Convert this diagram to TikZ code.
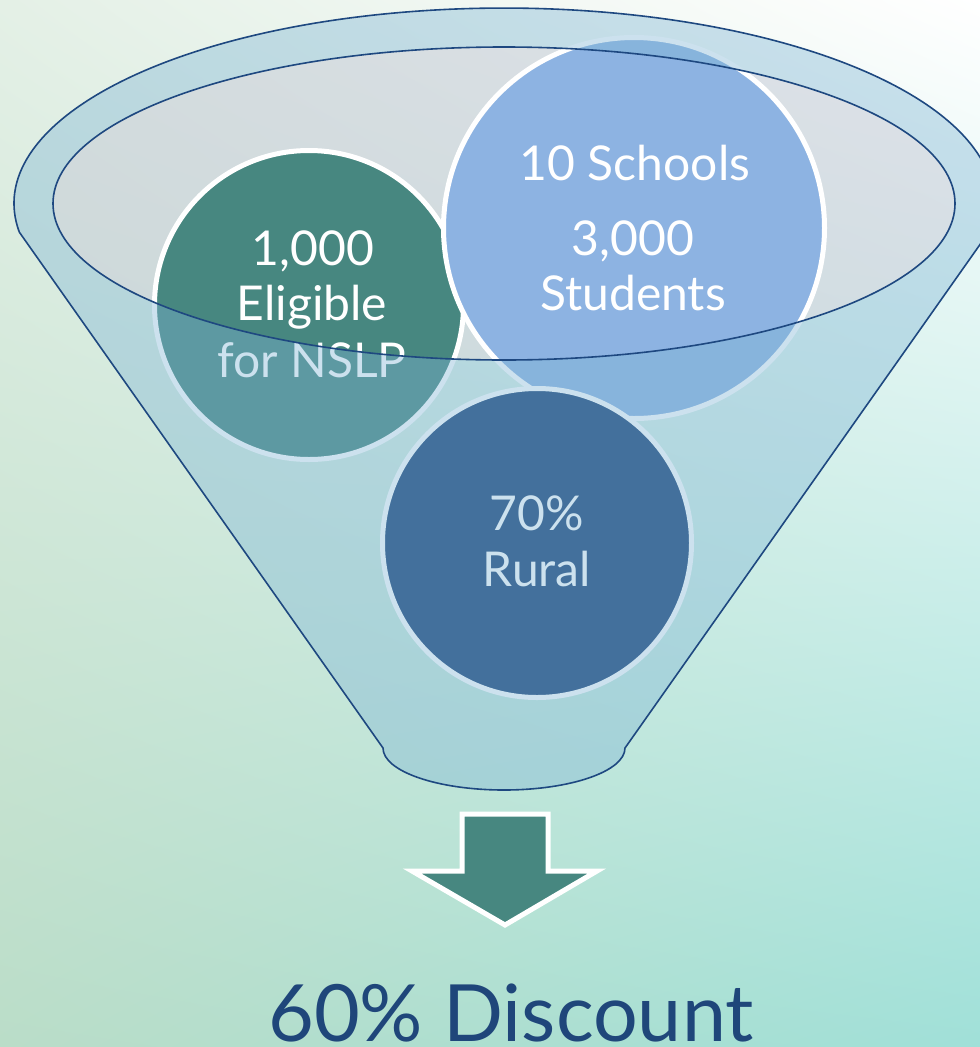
\documentclass[tikz,border=0pt]{standalone}
\usepackage{fontspec}
\setmainfont{Lato}
\usetikzlibrary{shadings}
\definecolor{bgUL}{RGB}{228,240,230}
\definecolor{bgUR}{RGB}{255,255,255}
\definecolor{bgLL}{RGB}{186,221,200}
\definecolor{bgLR}{RGB}{160,224,216}
\definecolor{funnelfill}{RGB}{128,182,213}
\definecolor{mouthfill}{RGB}{196,200,214}
\definecolor{edge}{RGB}{30,72,128}
\definecolor{teal}{RGB}{71,135,128}
\definecolor{sky}{RGB}{141,179,226}
\definecolor{navy}{RGB}{27,66,118}
\definecolor{titleblue}{RGB}{31,70,122}
\tikzset{
  bubble/.style={circle, draw=white, line width=5, inner sep=0pt},
  bubbletext/.style={text=white, font=\fontsize{48}{54}\selectfont, inner sep=0pt, anchor=base},
}
\begin{document}
\begin{tikzpicture}[x=1pt,y=-1pt]
\useasboundingbox (0,0) rectangle (980,1047);
% background
\shade[upper left=bgUL, upper right=bgUR, lower left=bgLL, lower right=bgLR] (0,0) rectangle (980,1047);
% funnel mouth (inner ellipse) tint
\fill[mouthfill, opacity=0.5] (504,203.5) ellipse [x radius=451, y radius=156.5];
% circles
\node[bubble, fill=teal, minimum size=309] (elig) at (309,305) {};
\node[bubble, fill=sky, minimum size=381] (schools) at (634,228) {};
\node[bubble, fill=navy, minimum size=309] (rural) at (537,543) {};
% circle texts
\node[bubbletext] (t1a) at (313,265) {1,000};
\node[bubbletext] (t1b) at (312,320) {Eligible};
\node[bubbletext] (t1c) at (312,377) {for NSLP};
\node[bubbletext] (t2a) at (635,180) {10 Schools};
\node[bubbletext] (t2b) at (633,255) {3,000};
\node[bubbletext] (t2c) at (633,310) {Students};
\node[bubbletext] (t3a) at (537,530) {70\%};
\node[bubbletext] (t3b) at (537,586) {Rural};
% funnel body (translucent), with the mouth cut out
\fill[funnelfill, opacity=0.4, even odd rule]
  (19.3,232.1) arc[start angle=171.6, end angle=368.4, x radius=490, y radius=195.5]
  -- (625,748) arc[start angle=0, end angle=180, x radius=121, y radius=42] -- cycle
  (504,203.5) ellipse [x radius=451, y radius=156.5];
% funnel outlines
\draw[edge, line width=1.6]
  (19.3,232.1) arc[start angle=171.6, end angle=368.4, x radius=490, y radius=195.5]
  -- (625,748) arc[start angle=0, end angle=180, x radius=121, y radius=42] -- cycle;
\draw[edge, line width=1.6] (504,203.5) ellipse [x radius=451, y radius=156.5];
% arrow
\filldraw[fill=teal, draw=white, line width=5, line join=miter]
  (462,814) -- (548,814) -- (548,871) -- (597,871) -- (505,925) -- (412,871) -- (462,871) -- cycle;
% result
\node[text=titleblue, font=\fontsize{79}{86}\selectfont, inner sep=0pt, anchor=base] (result) at (511,1041) {60\% Discount};
\end{tikzpicture}
\end{document}
